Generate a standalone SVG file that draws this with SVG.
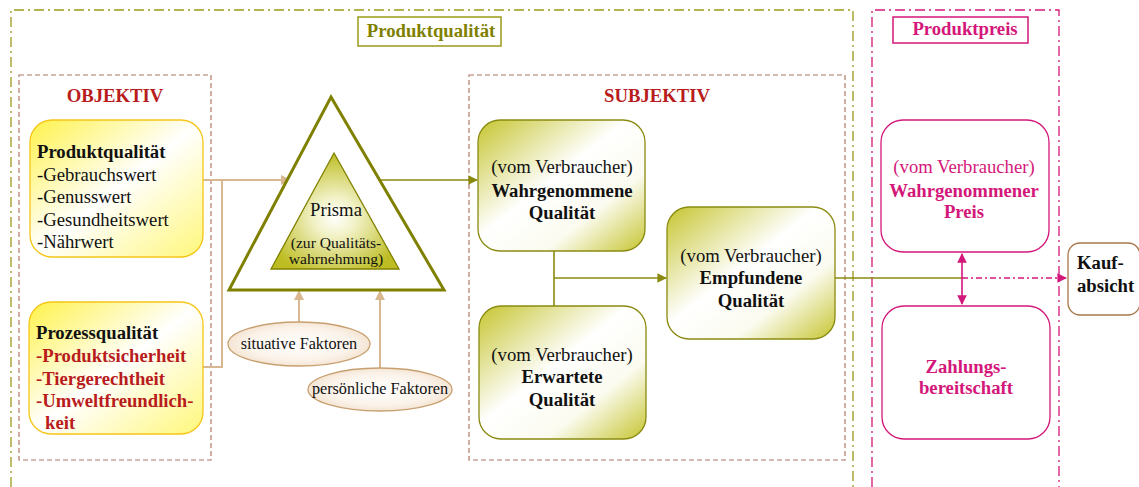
<svg xmlns="http://www.w3.org/2000/svg" width="1139" height="487" viewBox="0 0 1139 487" font-family="'Liberation Serif', 'DejaVu Serif', serif">
<style>
text{font-family:'Liberation Serif','DejaVu Serif',serif;}
.t{font-size:18.7px;fill:#111;}
.s{font-size:15.6px;fill:#111;}
.e{font-size:16.2px;fill:#111;}
.b{font-weight:bold;}
.red{fill:#b81c1c;}
.pk{fill:#d4177a;}
.ol{fill:#7f7f00;}
.mid{text-anchor:middle;}
.frameO{fill:none;stroke:#9a9a1a;stroke-width:1.3;stroke-dasharray:10 4 2 4;}
.frameP{fill:none;stroke:#d4177a;stroke-width:1.3;stroke-dasharray:10 4 2 4;}
.dash{fill:none;stroke:#b07868;stroke-width:1.2;stroke-dasharray:5 3;}
.tan{fill:none;stroke:#d8b890;stroke-width:2;}
.olc{fill:none;stroke:#8a8a10;stroke-width:1.6;}
.pkc{fill:none;stroke:#d4177a;stroke-width:1.6;}
</style>
<defs>
<linearGradient id="gy" x1="0" y1="0" x2="1" y2="1">
<stop offset="0" stop-color="#fff24a"/><stop offset="0.5" stop-color="#ffffff"/><stop offset="1" stop-color="#fff77a"/>
</linearGradient>
<linearGradient id="go" x1="0" y1="0" x2="1" y2="1">
<stop offset="0" stop-color="#c6c530"/><stop offset="0.45" stop-color="#ffffff"/><stop offset="0.7" stop-color="#fbfbf0"/><stop offset="1" stop-color="#c6c530"/>
</linearGradient>
<radialGradient id="gt" cx="0.5" cy="0.55" r="0.55">
<stop offset="0" stop-color="#ffffff"/><stop offset="0.3" stop-color="#f2f2c8"/><stop offset="1" stop-color="#bdbc22"/>
</radialGradient>
<radialGradient id="ge" cx="0.5" cy="0.5" r="0.6">
<stop offset="0" stop-color="#ffffff"/><stop offset="0.6" stop-color="#fbf3ea"/><stop offset="1" stop-color="#f0dcc6"/>
</radialGradient>
<marker id="aT" viewBox="0 0 10 10" refX="9" refY="5" markerWidth="5" markerHeight="5" orient="auto-start-reverse" markerUnits="strokeWidth"><path d="M0,0 L10,5 L0,10 z" fill="#d8b890"/></marker>
<marker id="aO" viewBox="0 0 10 10" refX="9" refY="5" markerWidth="6" markerHeight="6" orient="auto-start-reverse" markerUnits="strokeWidth"><path d="M0,0 L10,5 L0,10 z" fill="#8a8a10"/></marker>
<marker id="aP" viewBox="0 0 10 10" refX="9" refY="5" markerWidth="6" markerHeight="6" orient="auto-start-reverse" markerUnits="strokeWidth"><path d="M0,0 L10,5 L0,10 z" fill="#d4177a"/></marker>
</defs>
<rect width="1139" height="487" fill="#ffffff"/>

<g id="frame-produktqualitaet">
<path class="frameO" d="M11,487 L11,10 L853,10 L853,487"/>
<rect x="358" y="17" width="143" height="29" fill="#fff" stroke="#9a9a1a" stroke-width="1.5"/>
<text x="431" y="37" class="t b ol mid">Produktqualität</text>
</g>
<g id="frame-produktpreis">
<path class="frameP" d="M872,487 L872,10 L1059,10 L1059,487"/>
<rect x="893" y="17" width="135" height="26" fill="#fff" stroke="#d4177a" stroke-width="1.5"/>
<text x="965" y="35" class="t b pk mid">Produktpreis</text>
</g>
<g id="objektiv">
<rect class="dash" x="19" y="75" width="192" height="385"/>
<text x="115" y="102" class="t b red mid">OBJEKTIV</text>
</g>
<g id="subjektiv">
<rect class="dash" x="469" y="75" width="376" height="385"/>
<text x="657" y="102" class="t b red mid">SUBJEKTIV</text>
</g>

<g id="connectors">
<path class="tan" d="M203,180 L290,180" marker-end="url(#aT)"/>
<path class="tan" d="M203,367 L222,367 L222,180"/>
<path class="tan" d="M299,322 L299,291" marker-end="url(#aT)"/>
<path class="tan" d="M380,368 L380,291" marker-end="url(#aT)"/>
<path class="olc" d="M379,180 L477,180" marker-end="url(#aO)"/>
<path class="olc" d="M554,251 L554,306"/>
<path class="olc" d="M554,278 L666,278" marker-end="url(#aO)"/>
<path class="olc" d="M835,278 L962,278"/>
<path class="pkc" d="M962,278 L1066,278" stroke-dasharray="6 3 2 3" marker-end="url(#aP)"/>
<path class="pkc" d="M962,254 L962,304" marker-start="url(#aP)" marker-end="url(#aP)"/>
</g>

<g id="node-produktqualitaet">
<rect x="30" y="120" width="173" height="137" rx="22" fill="url(#gy)" stroke="#f5c518" stroke-width="1.3"/>
<text x="37" y="158" class="t b">Produktqualität</text>
<text x="37" y="181" class="t">-Gebrauchswert</text>
<text x="37" y="203" class="t">-Genusswert</text>
<text x="37" y="226" class="t">-Gesundheitswert</text>
<text x="37" y="248" class="t">-Nährwert</text>
</g>
<g id="node-prozessqualitaet">
<rect x="29" y="302" width="174" height="132" rx="22" fill="url(#gy)" stroke="#f5c518" stroke-width="1.3"/>
<text x="36" y="339" class="t b">Prozessqualität</text>
<text x="36" y="362" class="t b red">-Produktsicherheit</text>
<text x="36" y="385" class="t b red">-Tiergerechtheit</text>
<text x="36" y="407" class="t b red">-Umweltfreundlich-</text>
<text x="45" y="429" class="t b red">keit</text>
</g>
<g id="node-prisma">
<path d="M331,97 L444,290 L229,290 Z" fill="#fff" stroke="#808000" stroke-width="3" stroke-linejoin="miter"/>
<path d="M334,153 L399,269 L271,269 Z" fill="url(#gt)" stroke="#808000" stroke-width="1.3"/>
<text x="336" y="216" class="t mid">Prisma</text>
<text x="336" y="248" class="s mid">(zur Qualitäts-</text>
<text x="336" y="264" class="s mid">wahrnehmung)</text>
</g>
<g id="node-situativ">
<ellipse cx="299" cy="344" rx="71" ry="22" fill="url(#ge)" stroke="#c8a070" stroke-width="1.3"/>
<text x="299" y="349" class="e mid">situative Faktoren</text>
</g>
<g id="node-persoenlich">
<ellipse cx="380" cy="389.5" rx="72" ry="21.5" fill="url(#ge)" stroke="#c8a070" stroke-width="1.3"/>
<text x="380" y="394" class="e mid">persönliche Faktoren</text>
</g>
<g id="node-wahrgenommene-qualitaet">
<rect x="478" y="120" width="167" height="131" rx="22" fill="url(#go)" stroke="#8a8a10" stroke-width="1.3"/>
<text x="562" y="173" class="t mid">(vom Verbraucher)</text>
<text x="562" y="197" class="t b mid">Wahrgenommene</text>
<text x="562" y="219" class="t b mid">Qualität</text>
</g>
<g id="node-erwartete-qualitaet">
<rect x="479" y="306" width="167" height="133" rx="22" fill="url(#go)" stroke="#8a8a10" stroke-width="1.3"/>
<text x="562" y="361" class="t mid">(vom Verbraucher)</text>
<text x="562" y="383" class="t b mid">Erwartete</text>
<text x="562" y="406" class="t b mid">Qualität</text>
</g>
<g id="node-empfundene-qualitaet">
<rect x="667" y="207" width="168" height="132" rx="22" fill="url(#go)" stroke="#8a8a10" stroke-width="1.3"/>
<text x="751" y="262" class="t mid">(vom Verbraucher)</text>
<text x="751" y="284" class="t b mid">Empfundene</text>
<text x="751" y="307" class="t b mid">Qualität</text>
</g>
<g id="node-wahrgenommener-preis">
<rect x="881" y="120" width="168" height="132" rx="22" fill="#fff" stroke="#d4177a" stroke-width="1.3"/>
<text x="964" y="173" class="t pk mid">(vom Verbraucher)</text>
<text x="964" y="197" class="t b pk mid">Wahrgenommener</text>
<text x="964" y="218" class="t b pk mid">Preis</text>
</g>
<g id="node-zahlungsbereitschaft">
<rect x="882" y="306" width="168" height="133" rx="22" fill="#fff" stroke="#d4177a" stroke-width="1.3"/>
<text x="966" y="373" class="t b pk mid">Zahlungs-</text>
<text x="966" y="394" class="t b pk mid">bereitschaft</text>
</g>
<g id="node-kaufabsicht">
<rect x="1068" y="243" width="72" height="72" rx="12" fill="#fff" stroke="#a8784a" stroke-width="1.3"/>
<text x="1077" y="269" class="t b">Kauf-</text>
<text x="1077" y="292" class="t b">absicht</text>
</g>
</svg>
